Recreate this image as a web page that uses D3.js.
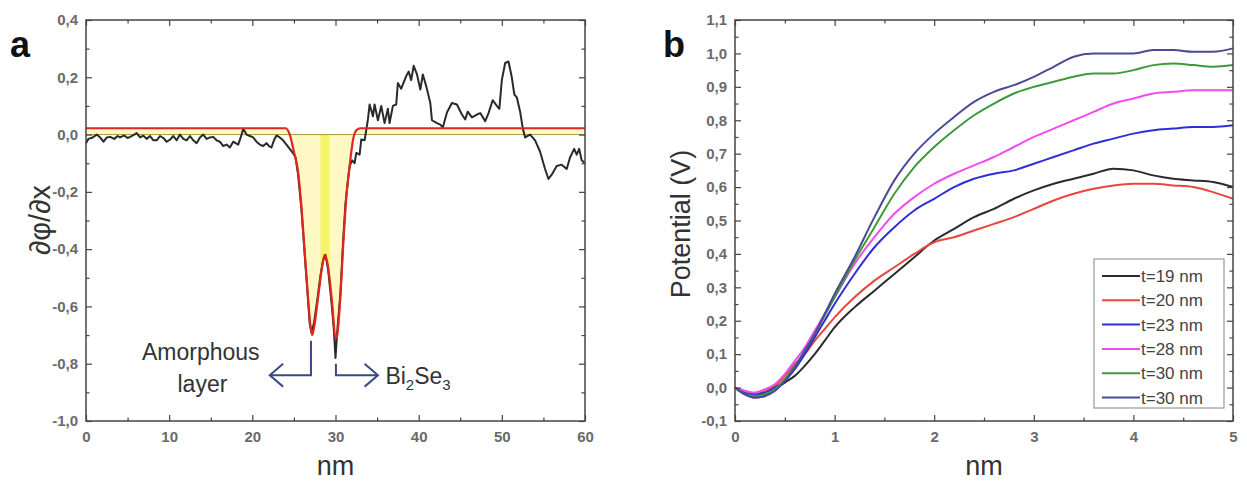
<!DOCTYPE html>
<html>
<head>
<meta charset="utf-8">
<script src="https://cdn.jsdelivr.net/npm/d3@7"></script>
<style>
    body { margin: 0; background: #fff; }
    svg { font-family: "Liberation Sans", Arial, sans-serif; }
    .tick text { fill: #6a6a6a; font-size: 15px; font-weight: bold; }
    .tick line { stroke: #444; stroke-width: 1.2; }
    .domain { display: none; }
</style>
</head>
<body>
<svg id="chart" width="1247" height="482"></svg>
<script>

// ----- DATA : panel a (derivative of potential) -----

// measured profile, [nm, dphi/dx]
var derivProfile = [
    [0,-0.03],[0.3,-0.015],[0.8,-0.01],[1.3,0.0],[1.7,-0.01],[2.1,-0.025],[2.5,-0.01],[2.9,-0.008],
    [3.4,-0.015],[3.8,-0.005],[4.1,-0.01],[4.6,-0.003],[5.0,-0.012],[5.3,-0.008],[5.7,-0.002],[6.1,0.005],
    [6.5,-0.01],[6.9,-0.004],[7.3,-0.015],[7.7,-0.005],[8.1,-0.02],[8.5,-0.02],[8.9,-0.005],[9.3,-0.012],
    [9.7,-0.025],[10.1,-0.018],[10.5,-0.005],[10.9,-0.02],[11.3,0.0],[11.7,-0.015],[12.1,-0.02],[12.5,-0.005],
    [12.9,-0.02],[13.3,-0.03],[13.7,-0.01],[14.1,0.0],[14.5,-0.015],[14.9,-0.01],[15.3,-0.008],[15.7,-0.02],
    [16.1,-0.025],[16.5,-0.04],[16.9,-0.035],[17.3,-0.045],[17.7,-0.025],[18.0,-0.03],[18.3,-0.035],[18.6,-0.01],
    [18.9,0.02],[19.3,0.0],[19.7,-0.005],[20.1,-0.01],[20.5,-0.025],[20.9,-0.035],[21.3,-0.04],[21.7,-0.03],
    [22.0,-0.04],[22.3,-0.045],[22.6,-0.02],[22.9,-0.003],[23.3,-0.01],[23.7,-0.02],[24.1,-0.035],[24.5,-0.05],
    [24.9,-0.065],[25.2,-0.08],[25.5,-0.14],[25.9,-0.26],[26.2,-0.38],[26.6,-0.54],[26.9,-0.66],[27.1,-0.69],
    [27.4,-0.66],[27.8,-0.58],[28.2,-0.49],[28.5,-0.44],[28.8,-0.42],[29.1,-0.47],[29.5,-0.58],[29.8,-0.68],
    [30.0,-0.78],[30.2,-0.69],[30.6,-0.55],[30.9,-0.38],[31.2,-0.24],[31.5,-0.16],[31.7,-0.11],[32.0,-0.09],
    [32.3,-0.1],[32.5,-0.064],[32.9,-0.07],[33.1,-0.017],[33.5,-0.02],[33.9,0.053],[34.1,0.105],[34.5,0.064],
    [34.7,0.105],[35.1,0.05],[35.5,0.1],[35.9,0.04],[36.3,0.09],[36.5,0.04],[36.9,0.1],[37.3,0.105],
    [37.5,0.18],[37.9,0.16],[38.5,0.204],[38.8,0.22],[39.1,0.19],[39.4,0.24],[39.8,0.21],[40.2,0.157],
    [40.5,0.21],[40.9,0.17],[41.4,0.11],[41.6,0.05],[42.2,0.04],[42.6,0.035],[42.9,0.025],[43.4,0.077],
    [44.0,0.11],[44.6,0.105],[45.2,0.07],[45.6,0.053],[45.9,0.08],[46.4,0.06],[47.0,0.07],[47.4,0.075],
    [48.0,0.047],[48.4,0.075],[48.9,0.12],[49.4,0.1],[49.7,0.09],[50.0,0.19],[50.4,0.25],[50.8,0.255],
    [51.2,0.2],[51.5,0.14],[51.8,0.13],[52.2,0.08],[52.5,0.025],[52.8,-0.01],[53.4,0.0],[54.0,-0.02],
    [54.6,-0.06],[55.2,-0.12],[55.6,-0.155],[56.0,-0.14],[56.6,-0.11],[57.2,-0.105],[57.8,-0.12],[58.2,-0.08],
    [58.7,-0.05],[59.0,-0.07],[59.3,-0.05],[59.6,-0.09],[60,-0.1]
];

// two-peak fit, [nm, dphi/dx]
var derivFit = [
    [0,0.022],[24.0,0.022],[24.5,0.0],[25.0,-0.06],[25.5,-0.13],[25.9,-0.25],[26.2,-0.37],[26.6,-0.53],
    [27.0,-0.67],[27.2,-0.70],[27.5,-0.66],[27.9,-0.57],[28.4,-0.46],[28.7,-0.42],[29.1,-0.46],[29.6,-0.59],
    [30.0,-0.71],[30.2,-0.70],[30.6,-0.56],[30.9,-0.40],[31.3,-0.22],[31.7,-0.11],[32.1,-0.02],[32.5,0.015],
    [33.0,0.022],[60,0.022]
];

// overlap of the two fitted peaks (nm)
var overlapRange = [28.2, 29.3];

var derivXTicks = [0, 10, 20, 30, 40, 50, 60];
var derivXMinor = [5, 15, 25, 35, 45, 55];
var derivYTicks = [0.4, 0.2, 0.0, -0.2, -0.4, -0.6, -0.8, -1.0];
var derivYMinor = [0.3, 0.1, -0.1, -0.3, -0.5, -0.7, -0.9];

// ----- DATA : panel b (potential) -----

var potentialX = [0,0.1,0.2,0.3,0.4,0.5,0.6,0.7,0.8,0.9,1.0,1.2,1.4,1.6,1.8,2.0,2.2,2.4,2.6,2.8,3.0,3.2,3.4,3.6,3.8,4.0,4.2,4.4,4.6,4.8,5.0];

var potT19 = [0,-0.02,-0.03,-0.025,-0.005,0.015,0.035,0.065,0.10,0.14,0.18,0.24,0.29,0.34,0.39,0.44,0.475,0.51,0.535,0.565,0.59,0.61,0.625,0.64,0.655,0.65,0.635,0.625,0.62,0.615,0.60];
var potT20 = [0,-0.01,-0.02,-0.01,0.005,0.035,0.07,0.10,0.14,0.175,0.21,0.27,0.32,0.36,0.40,0.435,0.45,0.47,0.49,0.51,0.535,0.56,0.58,0.595,0.605,0.61,0.61,0.605,0.60,0.585,0.565];
var potT23 = [0,-0.015,-0.02,-0.015,0.0,0.02,0.055,0.10,0.15,0.20,0.25,0.34,0.42,0.48,0.53,0.565,0.60,0.625,0.64,0.65,0.67,0.69,0.71,0.73,0.745,0.76,0.77,0.775,0.78,0.78,0.785];
var potT28 = [0,-0.01,-0.015,-0.005,0.01,0.04,0.08,0.12,0.17,0.22,0.27,0.37,0.45,0.52,0.57,0.61,0.64,0.665,0.69,0.72,0.75,0.775,0.80,0.825,0.85,0.865,0.88,0.885,0.89,0.89,0.89];
var potT30a = [0,-0.02,-0.025,-0.02,-0.005,0.025,0.065,0.11,0.16,0.215,0.27,0.38,0.48,0.58,0.66,0.72,0.77,0.815,0.85,0.88,0.90,0.915,0.93,0.94,0.94,0.95,0.965,0.97,0.965,0.96,0.965];
var potT30b = [0,-0.02,-0.03,-0.025,-0.01,0.02,0.06,0.11,0.16,0.22,0.28,0.39,0.51,0.62,0.70,0.76,0.81,0.855,0.885,0.905,0.93,0.96,0.99,1.0,1.0,1.0,1.01,1.01,1.005,1.005,1.015];

var potNames = ["t=19 nm", "t=20 nm", "t=23 nm", "t=28 nm", "t=30 nm", "t=30 nm"];
var potColors = ["#2b2b2b", "#e8463c", "#2f2fd8", "#f04cf0", "#3c9a3c", "#4a4a96"];
var potSeries = [potT19, potT20, potT23, potT28, potT30a, potT30b];

var potXTicks = [0, 1, 2, 3, 4, 5];
var potXMinor = [0.5, 1.5, 2.5, 3.5, 4.5];
var potYTicks = [1.1, 1.0, 0.9, 0.8, 0.7, 0.6, 0.5, 0.4, 0.3, 0.2, 0.1, 0.0, -0.1];
var potYMinor = [1.05, 0.95, 0.85, 0.75, 0.65, 0.55, 0.45, 0.35, 0.25, 0.15, 0.05, -0.05];

// ----- HELPERS -----

var locale = d3.formatLocale({ decimal: ",", thousands: ".", grouping: [3], currency: ["", ""], minus: "-" });
var fmt1 = locale.format(".1f");
var fmt0 = locale.format("d");

var svg = d3.select("#chart");

function drawFrame(g, x, y, w, h, xMajor, xMinor, yMajor, yMinor, fmtX, fmtY) {
    g.append("g").attr("transform", "translate(0," + h + ")")
        .call(d3.axisBottom(x).tickValues(xMajor).tickSize(-6).tickPadding(10).tickFormat(fmtX));
    g.append("g").attr("transform", "translate(0," + h + ")")
        .call(d3.axisBottom(x).tickValues(xMinor).tickSize(-3.5).tickFormat(""));
    g.append("g")
        .call(d3.axisTop(x).tickValues(xMajor).tickSize(-6).tickFormat(""));
    g.append("g")
        .call(d3.axisTop(x).tickValues(xMinor).tickSize(-3.5).tickFormat(""));
    g.append("g")
        .call(d3.axisLeft(y).tickValues(yMajor).tickSize(-6).tickPadding(8).tickFormat(fmtY));
    g.append("g")
        .call(d3.axisLeft(y).tickValues(yMinor).tickSize(-3.5).tickFormat(""));
    g.append("g").attr("transform", "translate(" + w + ",0)")
        .call(d3.axisRight(y).tickValues(yMajor).tickSize(-6).tickFormat(""));
    g.append("g").attr("transform", "translate(" + w + ",0)")
        .call(d3.axisRight(y).tickValues(yMinor).tickSize(-3.5).tickFormat(""));
    g.append("rect")
        .attr("width", w)
        .attr("height", h)
        .attr("fill", "none")
        .attr("stroke", "#444")
        .attr("stroke-width", 1.5);
}

// ----- PANEL A -----

var pa = { left: 86, top: 20, width: 499, height: 401 };
var gA = svg.append("g").attr("transform", "translate(" + pa.left + "," + pa.top + ")");
var xA = d3.scaleLinear().domain([0, 60]).range([0, pa.width]);
var yA = d3.scaleLinear().domain([-1.0, 0.4]).range([pa.height, 0]);

var fitArea = d3.area()
    .x(function(d) { return xA(d[0]); })
    .y0(yA(0))
    .y1(function(d) { return yA(d[1]); })
    .curve(d3.curveMonotoneX);

gA.append("path")
    .attr("d", fitArea(derivFit))
    .attr("fill", "#fdf8c4");

gA.append("clipPath").attr("id", "overlap-clip")
    .append("rect")
    .attr("x", xA(overlapRange[0]))
    .attr("width", xA(overlapRange[1]) - xA(overlapRange[0]))
    .attr("y", 0)
    .attr("height", pa.height);

gA.append("path")
    .attr("d", fitArea(derivFit))
    .attr("clip-path", "url(#overlap-clip)")
    .attr("fill", "#f6f36c");

gA.append("line")
    .attr("x1", 0).attr("x2", pa.width)
    .attr("y1", yA(0)).attr("y2", yA(0))
    .attr("stroke", "#a89a3a")
    .attr("stroke-width", 1);

gA.append("path")
    .attr("d", d3.line()
        .x(function(d) { return xA(d[0]); })
        .y(function(d) { return yA(d[1]); })(derivProfile))
    .attr("fill", "none")
    .attr("stroke", "#2a2a2a")
    .attr("stroke-width", 2)
    .attr("stroke-linejoin", "round");

gA.append("path")
    .attr("d", d3.line()
        .x(function(d) { return xA(d[0]); })
        .y(function(d) { return yA(d[1]); })
        .curve(d3.curveMonotoneX)(derivFit))
    .attr("fill", "none")
    .attr("stroke", "#e0261e")
    .attr("stroke-width", 2.2);

drawFrame(gA, xA, yA, pa.width, pa.height, derivXTicks, derivXMinor, derivYTicks, derivYMinor, fmt0, fmt1);

// annotation brackets
var arrowColor = "#3a4a82";
var bracketL = [[27.05, -0.72], [27.05, -0.84], [22.1, -0.84]];
var bracketR = [[30.05, -0.80], [30.05, -0.84], [35.1, -0.84]];
var toPx = d3.line().x(function(d) { return xA(d[0]); }).y(function(d) { return yA(d[1]); });

gA.append("path").attr("d", toPx(bracketL))
    .attr("fill", "none").attr("stroke", arrowColor).attr("stroke-width", 2);
gA.append("path").attr("d", toPx(bracketR))
    .attr("fill", "none").attr("stroke", arrowColor).attr("stroke-width", 2);
gA.append("path").attr("d", toPx([[23.7, -0.80], [22.1, -0.84], [23.7, -0.88]]))
    .attr("fill", "none").attr("stroke", arrowColor).attr("stroke-width", 2);
gA.append("path").attr("d", toPx([[33.5, -0.80], [35.1, -0.84], [33.5, -0.88]]))
    .attr("fill", "none").attr("stroke", arrowColor).attr("stroke-width", 2);

gA.append("text")
    .attr("x", xA(13.8)).attr("y", yA(-0.786))
    .attr("text-anchor", "middle")
    .attr("font-size", 23).attr("fill", "#333")
    .text("Amorphous");
gA.append("text")
    .attr("x", xA(14.0)).attr("y", yA(-0.90))
    .attr("text-anchor", "middle")
    .attr("font-size", 23).attr("fill", "#333")
    .text("layer");

var bise = gA.append("text")
    .attr("x", xA(36.0)).attr("y", yA(-0.87))
    .attr("font-size", 23).attr("fill", "#333");
bise.append("tspan").text("Bi");
bise.append("tspan").attr("font-size", 15).attr("dy", 6).text("2");
bise.append("tspan").attr("dy", -6).text("Se");
bise.append("tspan").attr("font-size", 15).attr("dy", 6).text("3");

// titles
svg.append("text")
    .attr("x", pa.left + pa.width / 2).attr("y", 475)
    .attr("text-anchor", "middle")
    .attr("font-size", 27).attr("fill", "#333")
    .text("nm");
svg.append("text")
    .attr("transform", "translate(50," + (pa.top + 200) + ") rotate(-90)")
    .attr("text-anchor", "middle")
    .attr("font-size", 29).attr("fill", "#333")
    .text("\u2202\u03c6/\u2202x");
svg.append("text")
    .attr("x", 10).attr("y", 57)
    .attr("font-size", 36).attr("font-weight", "bold").attr("fill", "#111")
    .text("a");

// ----- PANEL B -----

var pb = { left: 735, top: 20, width: 498, height: 401 };
var gB = svg.append("g").attr("transform", "translate(" + pb.left + "," + pb.top + ")");
var xB = d3.scaleLinear().domain([0, 5]).range([0, pb.width]);
var yB = d3.scaleLinear().domain([-0.1, 1.1]).range([pb.height, 0]);

var potLine = d3.line()
    .x(function(d, i) { return xB(potentialX[i]); })
    .y(function(d) { return yB(d); })
    .curve(d3.curveMonotoneX);

potSeries.forEach(function(values, i) {
    gB.append("path")
        .attr("d", potLine(values))
        .attr("fill", "none")
        .attr("stroke", potColors[i])
        .attr("stroke-width", 2);
});

drawFrame(gB, xB, yB, pb.width, pb.height, potXTicks, potXMinor, potYTicks, potYMinor, fmt0, fmt1);

// legend
var legend = gB.append("g").attr("transform", "translate(359,239)");
legend.append("rect")
    .attr("width", 130).attr("height", 149)
    .attr("fill", "#fff")
    .attr("stroke", "#999")
    .attr("stroke-width", 1.2);
potNames.forEach(function(name, i) {
    var row = legend.append("g").attr("transform", "translate(0," + (17 + i * 24.3) + ")");
    row.append("line")
        .attr("x1", 8).attr("x2", 46)
        .attr("stroke", potColors[i])
        .attr("stroke-width", 2);
    row.append("text")
        .attr("x", 47).attr("y", 6)
        .attr("font-size", 17).attr("fill", "#444")
        .text(name);
});

svg.append("text")
    .attr("x", pb.left + pb.width / 2).attr("y", 475)
    .attr("text-anchor", "middle")
    .attr("font-size", 27).attr("fill", "#333")
    .text("nm");
svg.append("text")
    .attr("transform", "translate(690," + (pb.top + 204) + ") rotate(-90)")
    .attr("text-anchor", "middle")
    .attr("font-size", 27).attr("fill", "#333")
    .text("Potential (V)");
svg.append("text")
    .attr("x", 663).attr("y", 57)
    .attr("font-size", 36).attr("font-weight", "bold").attr("fill", "#111")
    .text("b");

</script>
</body>
</html>
